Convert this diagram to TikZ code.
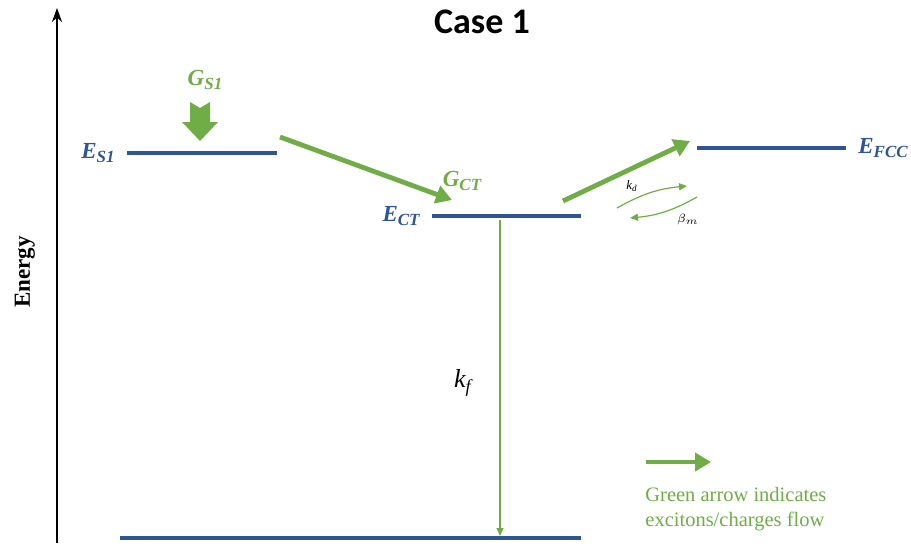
\documentclass[tikz,border=0pt]{standalone}
\usepackage{fontspec}
\setmainfont{Liberation Serif}
\newfontfamily\titlefont{Carlito}
\usetikzlibrary{arrows.meta,positioning}
\definecolor{lvlblue}{RGB}{47,85,151}
\definecolor{flowgreen}{RGB}{112,173,71}
\newcommand{\lvlsub}[1]{\raisebox{-0.45ex}{\fontsize{8.5}{9}\selectfont #1}}

\begin{document}
\begin{tikzpicture}[
  x=0.5pt, y=-0.5pt,
  level/.style={draw=lvlblue, line width=2pt},
  lvllabel/.style={text=lvlblue, font=\fontsize{11.5}{13}\selectfont\bfseries\itshape, inner sep=1pt},
  genlabel/.style={text=flowgreen, font=\fontsize{11.5}{13}\selectfont\bfseries\itshape, inner sep=1pt},
  flow/.style={-{Triangle[length=8pt, width=9pt]}, draw=flowgreen, line width=2.4pt},
  rate/.style={-{Triangle[length=4pt, width=3.5pt]}, draw=flowgreen, line width=0.6pt},
  ratelabel/.style={font=\fontsize{6.5}{8}\selectfont\itshape, inner sep=0pt}
]
\useasboundingbox (0,0) rectangle (911,546);

% energy axis and title
\coordinate (ax0) at (57,543);
\coordinate (ax1) at (57,8);
\draw[-{Stealth[length=7pt, width=5pt]}, line width=1.2pt] (ax0) -- (ax1);
\node[rotate=90, font=\fontsize{11.5}{13}\selectfont\bfseries] (energy) at (25,272) {Energy};
\node[font=\titlefont\bfseries\fontsize{18}{20}\selectfont] (title) at (482,22) {Case 1};

% levels
\coordinate (s1a) at (127,153); \coordinate (s1b) at (277,153);
\coordinate (cta) at (432,216); \coordinate (ctb) at (581,216);
\coordinate (fca) at (697,148); \coordinate (fcb) at (846,148);
\coordinate (gsa) at (120,538); \coordinate (gsb) at (581,538);
\draw[level] (s1a) -- (s1b);
\draw[level] (cta) -- (ctb);
\draw[level] (fca) -- (fcb);
\draw[level] (gsa) -- (gsb);

\node[lvllabel, left=5pt of s1a] (es1) {E\lvlsub{S1}};
\node[lvllabel, left=5pt of cta] (ect) {E\lvlsub{CT}};
\node[lvllabel, right=5pt of fcb] (efcc) {E\lvlsub{FCC}};

% generation
\node[genlabel] (gs1) at (205,80) {G\lvlsub{S1}};
\node[genlabel] (gct) at (462,181) {G\lvlsub{CT}};
\fill[flowgreen] (190,102) -- (200,108) -- (210,102) -- (210,122) -- (218,122)
  -- (200,141) -- (182,122) -- (190,122) -- cycle;

% flows
\coordinate (f1a) at (280,137); \coordinate (f1b) at (452,200);
\coordinate (f2a) at (563,201); \coordinate (f2b) at (690,141);
\draw[flow] (f1a) -- (f1b);
\draw[flow] (f2a) -- (f2b);

% rates
\coordinate (kda) at (617,208); \coordinate (kdb) at (687,186);
\coordinate (bma) at (697,197); \coordinate (bmb) at (630,218);
\draw[rate] (kda) to[bend left=12] (kdb);
\draw[rate] (bma) to[bend left=12] (bmb);
\node[ratelabel] (kd) at (632,186) {k\textsubscript{d}};
\node[ratelabel] (bm) at (688,219) {$\beta_m$};

\coordinate (kfa) at (500,220); \coordinate (kfb) at (500,536);
\draw[rate] (kfa) -- (kfb);
\node[font=\fontsize{13}{15}\selectfont\itshape] (kf) at (463,383) {k\textsubscript{f}};

% legend
\coordinate (lga) at (646,462); \coordinate (lgb) at (711,462);
\draw[flow] (lga) -- (lgb);
\node[text=flowgreen, font=\fontsize{10.25}{12.5}\selectfont, align=left, anchor=north west, inner sep=0pt] (legend) at (645,487) {Green arrow indicates\\excitons/charges flow};
\end{tikzpicture}
\end{document}
